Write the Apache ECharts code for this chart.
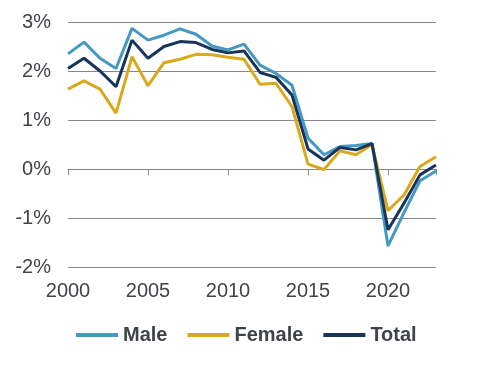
<!DOCTYPE html>
<html><head><meta charset="utf-8">
<script src="https://cdn.jsdelivr.net/npm/echarts@6/dist/echarts.min.js"></script>
<style>html,body{margin:0;padding:0;background:#fff}#c{width:482px;height:365px}</style>
</head><body><div id="c"></div>
<script>
const years = [2000,2001,2002,2003,2004,2005,2006,2007,2008,2009,2010,2011,2012,2013,2014,2015,2016,2017,2018,2019,2020,2021,2022,2023];
const male = [2.35,2.59,2.26,2.05,2.87,2.63,2.73,2.86,2.75,2.51,2.43,2.55,2.12,1.95,1.71,0.63,0.29,0.46,0.48,0.52,-1.57,-0.89,-0.24,-0.04];
const female = [1.63,1.80,1.63,1.14,2.29,1.70,2.17,2.24,2.34,2.33,2.28,2.24,1.73,1.75,1.27,0.10,-0.01,0.37,0.29,0.50,-0.85,-0.53,0.05,0.25];
const total = [2.05,2.26,2.00,1.68,2.63,2.26,2.50,2.60,2.58,2.44,2.37,2.41,1.97,1.87,1.51,0.41,0.18,0.44,0.39,0.52,-1.24,-0.70,-0.12,0.08];
const seriesNames = ['Male','Female','Total'];
const colors = ['#4598BF','#DAA81C','#17355B'];
const pair = (arr) => years.map((y,i)=>[y,arr[i]]);
const chart = echarts.init(document.getElementById('c'), null, {renderer:'canvas'});
const txt = '#404448';
const font = 'Liberation Sans, Arial';
chart.setOption({
  animation:false,
  grid:{left:68,right:46,top:22,bottom:98,containLabel:false,outerBoundsMode:'none'},
  legend:{
    data:seriesNames, left:71, top:320, itemWidth:42, itemHeight:4, itemGap:20, icon:'rect',
    textStyle:{fontFamily:font,fontSize:20,fontWeight:'bold',color:txt}
  },
  xAxis:[
    {type:'value',min:2000,max:2023,interval:5,position:'bottom',
      axisLine:{show:false,onZero:false},axisTick:{show:false},splitLine:{show:false},
      axisLabel:{margin:14,fontFamily:font,fontSize:20,color:txt,formatter:(v)=>String(v),showMaxLabel:false}
    },
    {type:'value',min:2000,max:2023,interval:5,position:'bottom',
      axisLine:{show:true,onZero:true,lineStyle:{color:'#888',width:1}},
      axisTick:{show:true,length:6,lineStyle:{color:'#888'}},
      splitLine:{show:false},axisLabel:{show:false}
    }
  ],
  yAxis:{type:'value',min:-2,max:3,interval:1,
    axisLine:{show:false},axisTick:{show:false},
    splitLine:{show:true,lineStyle:{color:'#888',width:1}},
    axisLabel:{margin:17,fontFamily:font,fontSize:20,color:txt,formatter:(v)=>v+'%'}
  },
  series:[
    {name:'Male',type:'line',data:pair(male),showSymbol:false,lineStyle:{width:3,color:colors[0]},itemStyle:{color:colors[0]}},
    {name:'Female',type:'line',data:pair(female),showSymbol:false,lineStyle:{width:3,color:colors[1]},itemStyle:{color:colors[1]}},
    {name:'Total',type:'line',data:pair(total),showSymbol:false,lineStyle:{width:3,color:colors[2]},itemStyle:{color:colors[2]}}
  ]
});
</script></body></html>
